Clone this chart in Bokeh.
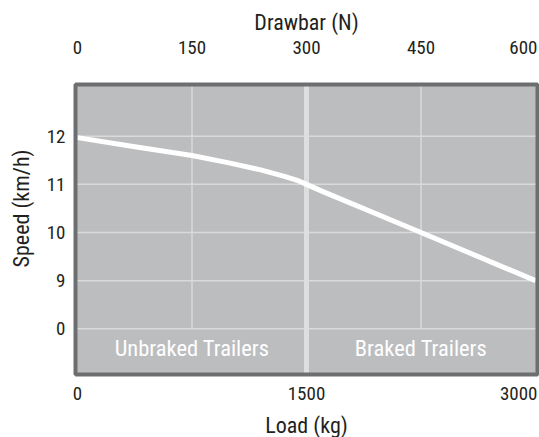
import math
from bokeh.plotting import figure
from bokeh.models import Range1d
from bokeh.core.properties import value
from bokeh.embed import file_html
from bokeh.resources import INLINE

# ---------------- data ----------------
load_kg = [0, 375, 750, 1000, 1200, 1350, 1450, 1500, 1600, 2250, 3000]
speed_kmh = [11.97, 11.78, 11.6, 11.44, 11.3, 11.17, 11.07, 11.0, 10.86, 10.0, 9.0]

load_ticks = [0, 1500, 3000]
drawbar_ticks = [0, 150, 300, 450, 600]
speed_ticks = [8, 9, 10, 11, 12]
speed_tick_labels = ["0", "9", "10", "11", "12"]

grid_loads = [750, 2250]
boundary_load = 1500
band_names = ["Unbraked Trailers", "Braked Trailers"]
band_edges = [0, 1500, 3000]

x_title = "Load (kg)"
x2_title = "Drawbar (N)"
y_title = "Speed (km/h)"

LOAD_MAX = 3000
DRAWBAR_MAX = 600

# ---------------- style / layout ----------------
FONT = "Roboto Condensed, Liberation Sans Narrow, DejaVu Sans Condensed, sans-serif"
BG = "#bcbdbf"
GRID = "#d9dadb"
THICK = "#dddedf"
BORDER = "#6d6e70"
TEXT = "#231f20"

W, H = 539, 437
ZERO_X = 77                          # canvas x of 0 kg
KG_PER_PX = LOAD_MAX / 458.0         # 3000 kg over 458 px
TOP_TICK_PY = 135.7                  # canvas y of the top speed tick
SPD_PER_PX = 1 / 48.15               # one speed step over ~48 px
TOP_TICK = speed_ticks[-1]
BASE_TICK = speed_ticks[0]


def ypx(py):
    return TOP_TICK - (py - TOP_TICK_PY) * SPD_PER_PX


x_lo, x_hi = -ZERO_X * KG_PER_PX, (W - ZERO_X) * KG_PER_PX
y_hi, y_lo = ypx(0), ypx(H)
box_x0, box_x1 = -2 * KG_PER_PX, LOAD_MAX + 2 * KG_PER_PX
box_y1, box_y0 = ypx(84), ypx(374)
top_tick_y = ypx(46.5)
top_title_y = ypx(22)
bottom_tick_y = ypx(392.5)
bottom_title_y = ypx(425)
band_y = ypx(347.5)

p = figure(width=W, height=H, output_backend="svg", toolbar_location=None,
           x_range=Range1d(x_lo, x_hi), y_range=Range1d(y_lo, y_hi),
           x_axis_location=None, y_axis_location=None,
           min_border=0)
p.background_fill_color = "white"
p.border_fill_color = "white"
p.outline_line_color = None
p.xgrid.visible = False
p.ygrid.visible = False

# plot box background
p.quad(left=[box_x0], right=[box_x1], bottom=[box_y0], top=[box_y1],
       fill_color=BG, line_color=None)

# horizontal grid lines
n = len(speed_ticks)
p.segment(x0=[box_x0] * n, y0=speed_ticks, x1=[box_x1] * n, y1=speed_ticks,
          line_color=GRID, line_width=1.5)
# vertical grid lines (above the zero line)
m = len(grid_loads)
p.segment(x0=grid_loads, y0=[BASE_TICK] * m, x1=grid_loads, y1=[box_y1] * m,
          line_color=GRID, line_width=1.5)
# boundary between unbraked and braked
p.segment(x0=[boundary_load], y0=[box_y0], x1=[boundary_load], y1=[box_y1],
          line_color=THICK, line_width=5)

# data line
p.line(load_kg, speed_kmh, line_color="white", line_width=5, line_join="round")

# band labels
band_centers = [(band_edges[i] + band_edges[i + 1]) / 2 for i in range(len(band_names))]
p.text(x=band_centers, y=[band_y] * len(band_names), text=band_names,
       text_color="white", text_font=value(FONT), text_font_size="22.5px",
       text_align="center", text_baseline="middle")

# box border
p.quad(left=[box_x0], right=[box_x1], bottom=[box_y0], top=[box_y1],
       fill_color=None, line_color=BORDER, line_width=4)

# y tick labels
p.text(x=[box_x0] * n, y=speed_ticks, text=speed_tick_labels, x_offset=-10,
       text_align="right", text_baseline="middle", text_font=value(FONT),
       text_font_size="19px", text_color=TEXT)


def tick_text(ticks, scale, y):
    k = len(ticks)
    p.text(x=[t * scale for t in ticks], y=[y] * k, text=[str(t) for t in ticks],
           x_offset=[0] * (k - 1) + [2],
           text_align=["center"] * (k - 1) + ["right"],
           text_baseline="middle", text_font=value(FONT),
           text_font_size="19px", text_color=TEXT)


tick_text(load_ticks, 1, bottom_tick_y)
tick_text(drawbar_ticks, LOAD_MAX / DRAWBAR_MAX, top_tick_y)

# axis titles
p.text(x=[LOAD_MAX / 2], y=[top_title_y], text=[x2_title],
       text_align="center", text_baseline="middle", text_font=value(FONT),
       text_font_size="22px", text_color=TEXT)
p.text(x=[LOAD_MAX / 2], y=[bottom_title_y], text=[x_title],
       text_align="center", text_baseline="middle", text_font=value(FONT),
       text_font_size="22px", text_color=TEXT)
p.text(x=[x_lo], y=[(speed_ticks[1] + speed_ticks[-1]) / 2], text=[y_title],
       x_offset=21, angle=math.pi / 2,
       text_align="center", text_baseline="middle", text_font=value(FONT),
       text_font_size="22px", text_color=TEXT)

open("out.html", "w").write(file_html(p, INLINE))
